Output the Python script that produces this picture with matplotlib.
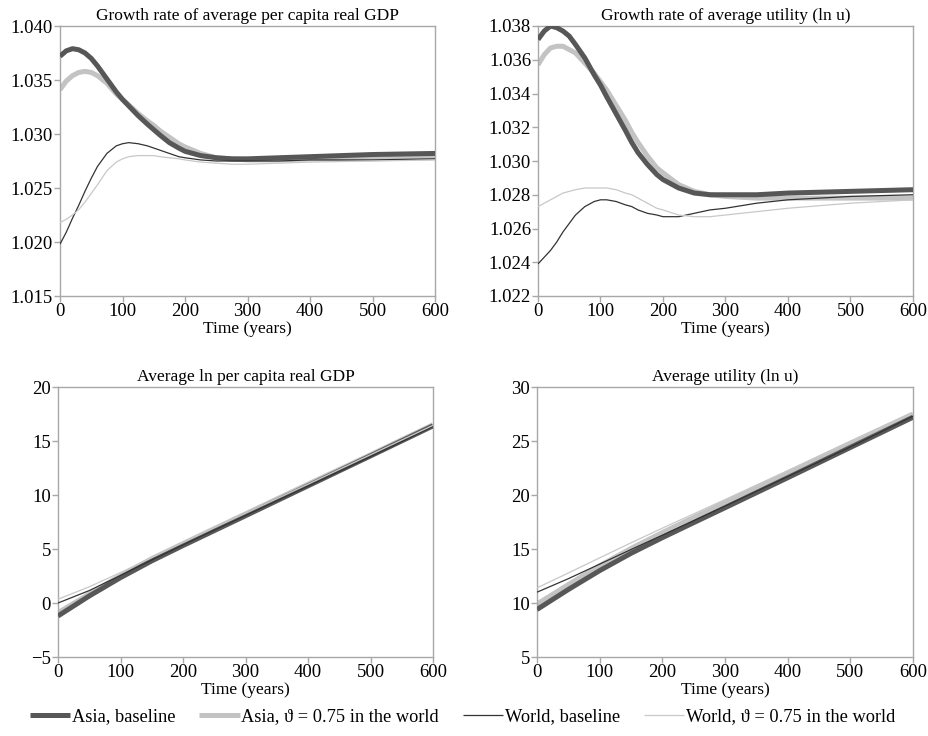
import matplotlib
matplotlib.use("Agg")
import matplotlib.pyplot as plt

plt.rcParams['font.family'] = ['Liberation Serif', 'DejaVu Serif']
plt.rcParams['axes.unicode_minus'] = True

# ---------------- data ----------------
t_fine = [0, 10, 20, 30, 40, 50, 60, 75, 90, 100, 110, 125, 140, 150, 160, 175, 190, 200,
          225, 250, 275, 300, 350, 400, 500, 600]

# Growth rate of average per capita real GDP
gdp_g_asia_base = [1.0372, 1.0377, 1.0379, 1.0378, 1.0375, 1.0370, 1.0363, 1.0351, 1.0339,
                   1.0332, 1.0326, 1.0317, 1.0309, 1.0304, 1.0299, 1.0292, 1.0287, 1.0284,
                   1.0280, 1.0278, 1.0277, 1.0277, 1.0278, 1.0279, 1.0281, 1.0282]
gdp_g_asia_theta = [1.0341, 1.0349, 1.0354, 1.0357, 1.0358, 1.0357, 1.0354, 1.0347, 1.0337,
                    1.0332, 1.0327, 1.0319, 1.0312, 1.0308, 1.0303, 1.0297, 1.0291, 1.0288,
                    1.0282, 1.0278, 1.0277, 1.0276, 1.0276, 1.0277, 1.0277, 1.0278]
gdp_g_world_base = [1.0198, 1.0209, 1.0222, 1.0234, 1.0247, 1.0259, 1.0270, 1.0282, 1.0289,
                    1.0291, 1.0292, 1.0291, 1.0289, 1.0287, 1.0285, 1.0282, 1.0279, 1.0278,
                    1.0276, 1.0275, 1.0275, 1.0275, 1.0275, 1.0276, 1.0276, 1.0277]
gdp_g_world_theta = [1.0218, 1.0221, 1.0225, 1.0230, 1.0237, 1.0245, 1.0253, 1.0266, 1.0274,
                     1.0277, 1.0279, 1.0280, 1.0280, 1.0280, 1.0279, 1.0278, 1.0277, 1.0276,
                     1.0274, 1.0273, 1.0272, 1.0272, 1.0273, 1.0274, 1.0275, 1.0276]

# Growth rate of average utility (ln u)
u_g_asia_base = [1.0372, 1.0377, 1.0380, 1.0379, 1.0377, 1.0374, 1.0369, 1.0361, 1.0351,
                 1.0345, 1.0338, 1.0328, 1.0318, 1.0311, 1.0305, 1.0298, 1.0292, 1.0289,
                 1.0284, 1.0281, 1.0280, 1.0280, 1.0280, 1.0281, 1.0282, 1.0283]
u_g_asia_theta = [1.0357, 1.0363, 1.0367, 1.0368, 1.0368, 1.0366, 1.0364, 1.0358, 1.0352,
                  1.0347, 1.0342, 1.0333, 1.0324, 1.0317, 1.0311, 1.0303, 1.0296, 1.0293,
                  1.0286, 1.0282, 1.0280, 1.0279, 1.0278, 1.0278, 1.0278, 1.0278]
u_g_world_base = [1.0239, 1.0243, 1.0247, 1.0252, 1.0258, 1.0263, 1.0268, 1.0273, 1.0276,
                  1.0277, 1.0277, 1.0276, 1.0274, 1.0273, 1.0271, 1.0269, 1.0268, 1.0267,
                  1.0267, 1.0269, 1.0271, 1.0272, 1.0275, 1.0277, 1.0279, 1.0280]
u_g_world_theta = [1.0273, 1.0275, 1.0277, 1.0279, 1.0281, 1.0282, 1.0283, 1.0284, 1.0284,
                   1.0284, 1.0284, 1.0283, 1.0281, 1.0280, 1.0278, 1.0275, 1.0272, 1.0271,
                   1.0268, 1.0267, 1.0267, 1.0268, 1.0270, 1.0272, 1.0275, 1.0277]

t_coarse = [0, 50, 100, 150, 200, 250, 300, 400, 500, 600]

# Average ln per capita real GDP
lngdp_asia_base = [-1.2, 0.65, 2.35, 3.9, 5.32, 6.7, 8.08, 10.85, 13.62, 16.4]
lngdp_asia_theta = [-0.9, 0.83, 2.53, 4.1, 5.5, 6.88, 8.25, 11.0, 13.72, 16.5]
lngdp_world_base = [0.0, 1.15, 2.55, 3.98, 5.38, 6.75, 8.1, 10.82, 13.55, 16.35]
lngdp_world_theta = [0.35, 1.5, 2.82, 4.2, 5.58, 6.95, 8.3, 11.0, 13.73, 16.45]

# Average utility (ln u)
lnu_asia_base = [9.4, 11.25, 13.0, 14.6, 16.05, 17.44, 18.82, 21.6, 24.4, 27.2]
lnu_asia_theta = [9.9, 11.7, 13.45, 15.05, 16.52, 17.92, 19.3, 22.05, 24.8, 27.5]
lnu_world_base = [11.0, 12.25, 13.6, 14.95, 16.28, 17.62, 18.97, 21.7, 24.45, 27.3]
lnu_world_theta = [11.4, 12.78, 14.18, 15.57, 16.93, 18.25, 19.58, 22.25, 24.95, 27.55]

labels = ["Asia, baseline", "Asia, \u03d1 = 0.75 in the world",
          "World, baseline", "World, \u03d1 = 0.75 in the world"]
titles = ["Growth rate of average per capita real GDP", "Growth rate of average utility (ln u)",
          "Average ln per capita real GDP", "Average utility (ln u)"]

colors = ["#575757", "#c3c3c3", "#333333", "#c8c8c8"]
widths = [3.6, 3.6, 0.9, 0.9]
zorders = [3, 2, 4, 4]

fig = plt.figure(figsize=(9.29, 7.36), dpi=100)
positions = [
    [60/929, 1-296/736, 375/929, 270/736],
    [538/929, 1-296/736, 375/929, 270/736],
    [58/929, 1-657/736, 375/929, 270/736],
    [537/929, 1-657/736, 376/929, 270/736],
]
panels = [
    (t_fine, [gdp_g_asia_base, gdp_g_asia_theta, gdp_g_world_base, gdp_g_world_theta],
     (1.015, 1.040), [1.015, 1.020, 1.025, 1.030, 1.035, 1.040], "{:.3f}"),
    (t_fine, [u_g_asia_base, u_g_asia_theta, u_g_world_base, u_g_world_theta],
     (1.022, 1.038), [1.022, 1.024, 1.026, 1.028, 1.030, 1.032, 1.034, 1.036, 1.038], "{:.3f}"),
    (t_coarse, [lngdp_asia_base, lngdp_asia_theta, lngdp_world_base, lngdp_world_theta],
     (-5, 20), [-5, 0, 5, 10, 15, 20], "{:d}"),
    (t_coarse, [lnu_asia_base, lnu_asia_theta, lnu_world_base, lnu_world_theta],
     (5, 30), [5, 10, 15, 20, 25, 30], "{:d}"),
]

spine_col = "#a8a8a8"
handles = None
for i, (pos, (tt, series, ylim, yticks, fmt)) in enumerate(zip(positions, panels)):
    ax = fig.add_axes(pos)
    hs = []
    for s, c, w, z, lab in zip(series, colors, widths, zorders, labels):
        h, = ax.plot(tt, s, color=c, lw=w, zorder=z, label=lab, solid_capstyle='butt',
                     solid_joinstyle='round')
        hs.append(h)
    if handles is None:
        handles = hs
    ax.set_xlim(0, 600)
    ax.set_ylim(*ylim)
    ax.set_xticks([0, 100, 200, 300, 400, 500, 600])
    ax.set_yticks(yticks)
    if fmt == "{:d}":
        ax.set_yticklabels([("\u2212" + str(-v)) if v < 0 else str(v) for v in yticks])
    else:
        ax.set_yticklabels([fmt.format(v) for v in yticks])
    for sp in ax.spines.values():
        sp.set_color(spine_col)
        sp.set_linewidth(1.0)
    ax.tick_params(axis='both', which='major', direction='out', length=4, width=1.0,
                   color=spine_col, labelsize=13.5, labelcolor='black', pad=1)
    ax.set_title(titles[i], fontsize=12.5, pad=4)
    ax.set_xlabel("Time (years)", fontsize=12.5, labelpad=1)

fig.legend(handles, labels, loc='lower center', bbox_to_anchor=(0.498, -0.008), ncol=4,
           frameon=False, fontsize=13.2, handlelength=2.2, columnspacing=1.3,
           handletextpad=0.1)

fig.savefig("out.png", dpi=100)
